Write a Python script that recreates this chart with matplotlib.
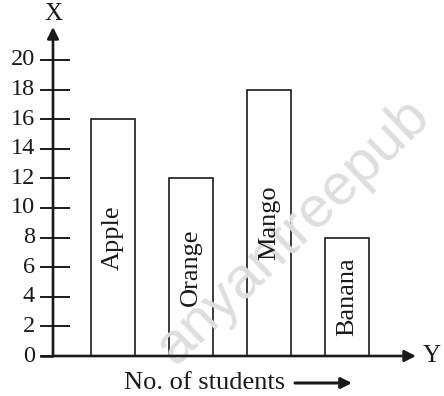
import matplotlib
matplotlib.use("Agg")
import matplotlib.pyplot as plt

fruits = ["Apple", "Orange", "Mango", "Banana"]
students = [16, 12, 18, 8]
y_ticks = [0, 2, 4, 6, 8, 10, 12, 14, 16, 18, 20]

W, H, DPI = 444, 396, 100
serif = "Liberation Serif"
ink = "#1a1a1a"

fig = plt.figure(figsize=(W / DPI, H / DPI), dpi=DPI)
ax = fig.add_axes([0, 0, 1, 1])
ax.set_axis_off()

# data window: category spacing 78 px, 14.8 px per student
x0_px, dx_px = 113, 78
y0_px, dy_px = 356, 14.8
ax.set_xlim((0 - x0_px) / dx_px, (W - x0_px) / dx_px)
ax.set_ylim((y0_px - H) / dy_px, y0_px / dy_px)

def px_x(p):
    return (p - x0_px) / dx_px

def px_y(p):
    return (y0_px - p) / dy_px

xs = list(range(len(fruits)))
ax.bar(xs, students, width=0.565, facecolor="white", edgecolor=ink,
       linewidth=1.2, zorder=2)

# faint diagonal watermark laid over the bars
ax.text(px_x(293), px_y(232), "anyantreepub", rotation=44, ha="center",
        va="center", fontsize=42, color="#dedede", family="Liberation Sans",
        zorder=2.5, rotation_mode="anchor")

for x, name, v in zip(xs, fruits, students):
    ax.text(x, v / 2, name, rotation=90, ha="center", va="center",
            fontsize=19, family=serif, color=ink, zorder=3)

axis_x = px_x(53)
arrow = dict(arrowstyle="-|>", lw=1.9, color=ink, mutation_scale=17,
             shrinkA=0, shrinkB=0)

# vertical axis with arrow
ax.annotate("", xy=(axis_x, px_y(27)), xytext=(axis_x, 0),
            arrowprops=arrow, zorder=4)
ax.text(axis_x, px_y(14), "X", ha="center", va="center", fontsize=18,
        family=serif, color=ink)

# horizontal axis with arrow
ax.plot([px_x(40), axis_x], [0, 0], color=ink, lw=1.9, zorder=4,
        solid_capstyle="butt")
ax.annotate("", xy=(px_x(416), 0), xytext=(axis_x, 0),
            arrowprops=arrow, zorder=4)
ax.text(px_x(432), 0, "Y", ha="center", va="center", fontsize=18,
        family=serif, color=ink)

# ticks crossing the vertical axis
for t in y_ticks:
    ax.plot([px_x(40), px_x(70)], [t, t], color=ink, lw=1.4, zorder=4,
            solid_capstyle="butt")
    ax.text(px_x(35), t, str(t), ha="right", va="center", fontsize=17.5,
            family=serif, color=ink)

# axis caption with arrow
ax.text(px_x(124), px_y(383), "No. of students", ha="left", va="center",
        fontsize=19, family=serif, color=ink)
ax.annotate("", xy=(px_x(352), px_y(383)), xytext=(px_x(295), px_y(383)),
            arrowprops=dict(arrowstyle="-|>", lw=2.2, color=ink,
                            mutation_scale=16, shrinkA=0, shrinkB=0))

fig.savefig("out.png", dpi=DPI)
